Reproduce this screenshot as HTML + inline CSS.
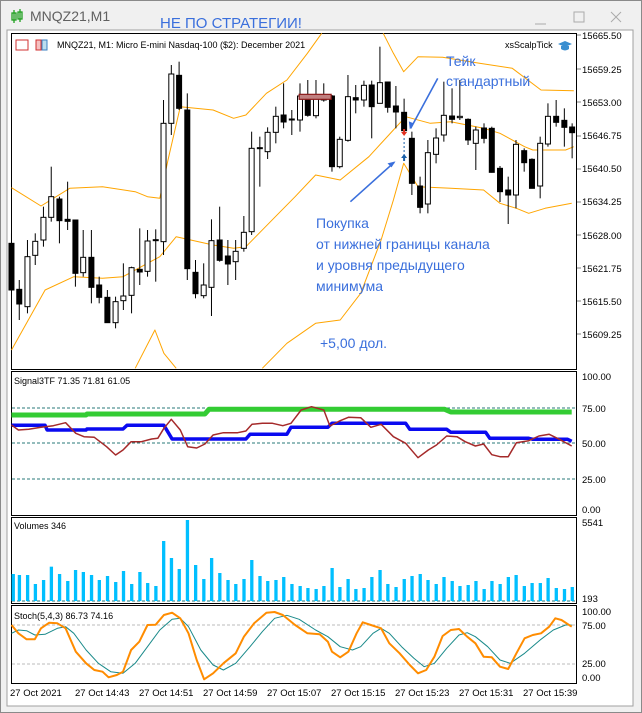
<!DOCTYPE html>
<html><head><meta charset="utf-8"><style>
html,body{margin:0;padding:0;width:642px;height:713px;overflow:hidden;background:#f0f0f0;font-family:"Liberation Sans",sans-serif}
#win{position:absolute;left:0;top:0;width:640px;height:711px;border:1px solid #8a8a8a;background:#f0f0f0}
</style></head><body>
<div id="win"></div>
<svg id="s" width="642" height="713" style="position:absolute;left:0;top:0" xmlns="http://www.w3.org/2000/svg" font-family="Liberation Sans, sans-serif">
<rect x="7" y="30" width="626" height="676" fill="#fff" stroke="#a0a0a0"/>
<g fill="none" stroke="#1ea01e" stroke-width="1.3"><line x1="14" y1="10" x2="14" y2="23"/><rect x="12" y="13" width="4" height="7"/><line x1="20" y1="9" x2="20" y2="22"/><rect x="18" y="12" width="4" height="7"/></g>
<text x="30" y="21" font-size="14" fill="#606060">MNQZ21,M1</text>
<text x="160" y="28" font-size="15" fill="#3a6fdc" font-family="Liberation Sans, Noto Sans CJK SC, sans-serif">НЕ ПО СТРАТЕГИИ!</text>
<line x1="535" y1="24" x2="546" y2="24" stroke="#aaa"/>
<rect x="574" y="12" width="10" height="10" fill="none" stroke="#aaa"/>
<path d="M611 12 L621 22 M621 12 L611 22" stroke="#aaa"/>
<g fill="none" stroke="#000"><rect x="11.5" y="33.5" width="565" height="336"/><rect x="11.5" y="371.5" width="565" height="144"/><rect x="11.5" y="517.5" width="565" height="86"/><rect x="11.5" y="605.5" width="565" height="78"/></g>
<g font-size="9.5" fill="#000">
<text x="582" y="39">15665.50</text><text x="582" y="73">15659.25</text><text x="582" y="106">15653.00</text><text x="582" y="139">15646.75</text><text x="582" y="172">15640.50</text><text x="582" y="205">15634.25</text><text x="582" y="239">15628.00</text><text x="582" y="272">15621.75</text><text x="582" y="305">15615.50</text><text x="582" y="338">15609.25</text>
<text x="582" y="380">100.00</text><text x="582" y="412">75.00</text><text x="582" y="447">50.00</text><text x="582" y="483">25.00</text><text x="582" y="513">0.00</text>
<text x="582" y="526">5541</text><text x="582" y="602">193</text>
<text x="582" y="615">100.00</text><text x="582" y="629">75.00</text><text x="582" y="667">25.00</text><text x="582" y="681">0.00</text>
<text x="10" y="696">27 Oct 2021</text><text x="75" y="696">27 Oct 14:43</text><text x="139" y="696">27 Oct 14:51</text><text x="203" y="696">27 Oct 14:59</text><text x="267" y="696">27 Oct 15:07</text><text x="331" y="696">27 Oct 15:15</text><text x="395" y="696">27 Oct 15:23</text><text x="459" y="696">27 Oct 15:31</text><text x="523" y="696">27 Oct 15:39</text>
<text x="57" y="48" font-size="9">MNQZ21, M1:  Micro E-mini Nasdaq-100 ($2): December 2021</text>
<text x="505" y="48" font-size="9">xsScalpTick</text>
<text x="14" y="384" font-size="9">Signal3TF 71.35 71.81 61.05</text>
<text x="14" y="529" font-size="9">Volumes 346</text>
<text x="14" y="619" font-size="9">Stoch(5,4,3) 86.73 74.16</text>
</g>
<g stroke="#000" stroke-width="0.5"><line x1="577" y1="35" x2="581" y2="35"/><line x1="577" y1="69" x2="581" y2="69"/><line x1="577" y1="102" x2="581" y2="102"/><line x1="577" y1="136" x2="581" y2="136"/><line x1="577" y1="169" x2="581" y2="169"/><line x1="577" y1="202" x2="581" y2="202"/><line x1="577" y1="235" x2="581" y2="235"/><line x1="577" y1="268" x2="581" y2="268"/><line x1="577" y1="301" x2="581" y2="301"/><line x1="577" y1="334" x2="581" y2="334"/></g>
<rect x="16" y="40" width="12" height="10" fill="none" stroke="#d03030"/><rect x="36" y="40" width="5" height="10" fill="#f5c0c0" stroke="#d03030"/><rect x="42" y="40" width="5" height="10" fill="#bde" stroke="#3a7fc0"/>
<path d="M558 44 l7 -3 l7 3 l-7 3z" fill="#3a8fd0"/><path d="M561 46 v3 q4 3 8 0 v-3" fill="#3a8fd0"/>
<g id="dyn"></g>
<g font-size="14" fill="#3a6fdc" font-family="Liberation Sans, Noto Sans CJK SC, sans-serif">
<text x="446" y="66">Тейк</text><text x="446" y="86">стандартный</text>
<text x="316" y="228">Покупка</text><text x="316" y="249">от нижней границы канала</text><text x="316" y="270">и уровня предыдущего</text><text x="316" y="291">минимума</text>
<text x="320" y="348">+5,00 дол.</text>
</g>
</svg>
<script>
var NS="http://www.w3.org/2000/svg",g=document.getElementById("dyn");
function el(t,a){var e=document.createElementNS(NS,t);for(var k in a)e.setAttribute(k,a[k]);g.appendChild(e);return e;}
var XF=2.44;
function pl(pts,yoff,st,w,dash){var s=[];for(var i=0;i<pts.length;i+=2)s.push((pts[i]/XF).toFixed(1)+","+(yoff+pts[i+1]/3).toFixed(1));var a={points:s.join(" "),fill:"none",stroke:st,"stroke-width":w,"stroke-linejoin":"round"};if(dash)a["stroke-dasharray"]=dash;el("polyline",a);}
// dashed levels
[[408,"#2a7a7a"],[443,"#2a7a7a"],[479,"#2a7a7a"],[601,"#2a7a7a"]].forEach(function(l){el("line",{x1:12,x2:576,y1:l[0],y2:l[0],stroke:l[1],"stroke-width":1,"stroke-dasharray":"3,2"});});
[625,664].forEach(function(y){el("line",{x1:12,x2:576,y1:y,y2:y,stroke:"#bbb","stroke-dasharray":"3,2"});});
// bands
var O="#ffa500";
pl([28,563,100,618,170,565,250,560,330,575,360,590,390,595,410,480,440,320,520,330,570,355,600,345,650,280,700,240,750,160,785,100],0,O,1);
pl([935,100,960,160,985,215,1020,170,1080,172,1170,190,1250,205,1320,270,1400,272],0,O,1);
pl([28,1050,110,870,180,830,250,835,300,830,360,790,390,770,430,710,520,735,570,745,600,740,680,640,720,590,770,525,830,540,900,470,960,390,990,350,1050,370,1100,365,1180,385,1220,400,1280,440,1300,450,1380,450,1400,440],0,O,1);
pl([330,1105,378,990,400,1060,430,1105],0,O,1);
pl([640,1105,700,1030,770,970,830,960,880,880,930,720,960,600,985,490,1020,560,1100,565,1180,570,1220,610,1260,625,1290,640,1330,625,1395,610],0,O,1);
// candles [x, bodyTop, bodyBot, hi, lo, black]
var C=[[28,730,870,700,960,1],[47,868,912,840,960,1],[67,770,920,720,940,0],[86,724,766,700,795,0],[106,652,720,620,740,0],[125,590,652,500,665,0],[145,597,662,590,730,1],[165,658,664,545,690,1],[184,660,820,660,860,1],[203,772,818,690,830,0],[223,772,862,690,910,1],[242,855,892,830,910,1],[262,892,968,870,968,1],[282,905,968,890,985,0],[301,888,902,790,930,0],[321,803,886,800,940,0],[341,808,816,685,855,1],[360,723,814,690,830,0],[380,719,722,688,845,1],[399,370,725,300,765,0],[418,222,370,195,405,0],[437,226,325,185,330,1],[457,330,806,280,840,1],[477,817,881,780,895,1],[497,855,887,790,895,0],[516,722,862,658,948,0],[536,720,781,620,785,1],[556,768,792,720,855,1],[575,754,785,720,840,0],[595,697,745,648,755,0],[614,445,695,395,705,0],[634,443,445,410,560,1],[653,397,455,382,477,0],[673,349,397,320,430,0],[692,345,366,250,385,1],[712,357,359,330,405,1],[732,288,360,250,395,0],[751,288,346,240,350,1],[771,290,347,240,355,0],[790,288,300,250,305,0],[810,288,500,285,515,1],[829,418,500,410,505,0],[849,290,421,225,425,0],[868,293,300,255,340,1],[888,256,300,242,320,0],[907,255,320,242,415,1],[927,248,310,140,310,0],[946,246,322,245,338,1],[966,318,336,258,385,1],[986,337,392,296,395,1],[1005,415,550,395,585,1],[1025,558,622,530,640,1],[1044,458,612,420,640,0],[1064,414,463,385,490,0],[1083,346,405,245,425,0],[1103,348,358,265,370,1],[1122,349,353,240,360,0],[1142,358,420,355,435,1],[1161,390,430,380,510,0],[1181,384,415,370,430,1],[1200,385,517,380,518,1],[1220,505,575,498,606,1],[1240,570,585,530,672,1],[1259,433,585,420,625,0],[1279,452,488,445,515,1],[1298,478,565,475,565,1],[1318,430,558,410,595,0],[1337,349,432,310,440,0],[1357,349,367,300,380,1],[1377,361,382,325,440,1],[1396,381,398,370,475,1]];
C.forEach(function(c){var x=c[0]/XF;el("line",{x1:x,x2:x,y1:c[3]/3,y2:c[4]/3,stroke:"#000","stroke-width":1});var t=c[1]/3,b=c[2]/3;if(b-t<1)b=t+1;el("rect",{x:x-2.5,y:t,width:5,height:b-t,fill:c[5]?"#000":"#fff",stroke:"#000","stroke-width":1});});
el("rect",{x:730/XF,y:283/3,width:78/XF,height:5,fill:"#c08080",stroke:"#8b1a1a","stroke-width":1.2});
// arrows
var ax=986/XF;el("line",{x1:ax,x2:ax,y1:138,y2:155,stroke:"#1a5fa8","stroke-dasharray":"2,2"});
el("path",{d:"M"+(ax-3)+" 132 h6 l-3 4z",fill:"#e03020"});el("rect",{x:ax-1,y:129,width:2,height:4,fill:"#e03020"});
el("path",{d:"M"+(ax-3)+" 158 h6 l-3 -4z",fill:"#1a5fa8"});el("rect",{x:ax-1,y:157,width:2,height:4,fill:"#1a5fa8"});
el("line",{x1:1068/XF,y1:235/3,x2:1002/XF,y2:385/3,stroke:"#3a6fdc","stroke-width":1.6});
el("path",{d:"M"+(1000/XF)+" "+(388/3)+" l-1 -8 l5 2z",fill:"#3a6fdc"});
el("line",{x1:855/XF,y1:605/3,x2:962/XF,y2:487/3,stroke:"#3a6fdc","stroke-width":1.6});
el("path",{d:"M"+(965/XF)+" "+(484/3)+" l-8 2 l4 4z",fill:"#3a6fdc"});
// signal panel
var Y2=370;
pl([28,135,210,135,212,132,500,132,510,118,1085,118,1100,126,1395,126],Y2,"#33cc33",5);
pl([28,166,110,166,115,180,210,180,212,177,300,177,310,166,400,166,420,207,600,207,610,193,700,193,710,172,800,172,810,160,990,160,1000,178,1090,178,1100,187,1185,187,1195,205,1290,205,1300,208,1385,208,1395,214],Y2,"#0a0af0",3.5);
pl([28,165,45,180,70,178,100,172,130,167,160,158,185,190,205,200,230,202,260,230,282,255,300,240,320,215,345,215,370,207,385,205,400,175,418,148,440,180,458,230,480,234,500,222,520,195,545,188,580,188,600,183,615,163,640,160,665,160,690,167,710,160,735,120,760,110,790,120,805,168,830,152,850,142,880,143,905,172,930,163,960,200,990,220,1020,263,1045,240,1065,225,1090,198,1115,200,1135,215,1160,228,1180,222,1200,254,1220,260,1240,260,1260,218,1290,212,1315,198,1340,193,1365,208,1395,228],Y2,"#a52a2a",1.5);
// volumes
var V=[[32,612],[47,615],[67,615],[86,642],[106,630],[125,590],[145,612],[165,633],[184,600],[203,606],[223,615],[242,630],[262,618],[282,636],[301,603],[321,642],[341,606],[360,639],[380,648],[399,513],[418,564],[437,597],[457,450],[477,585],[497,627],[516,564],[536,609],[556,630],[575,642],[595,627],[614,570],[634,618],[653,633],[673,630],[692,621],[712,642],[732,648],[751,654],[771,657],[790,648],[810,594],[829,651],[849,627],[868,657],[888,654],[907,621],[927,600],[946,642],[966,651],[986,627],[1005,618],[1025,612],[1044,630],[1064,642],[1083,621],[1103,633],[1122,648],[1142,645],[1161,633],[1181,657],[1200,633],[1220,642],[1240,621],[1259,615],[1279,648],[1298,639],[1318,639],[1337,624],[1357,654],[1377,657],[1396,651]];
V.forEach(function(v){var x=v[0]/XF,t=Y2+v[1]/3;el("rect",{x:x-1.5,y:t,width:3.3,height:601-t,fill:"#00bfff"});});
// stoch
pl([28,790,45,780,65,782,85,795,110,793,140,775,160,770,180,790,210,840,240,880,270,905,300,910,330,880,360,830,390,780,420,748,440,745,460,770,490,840,520,885,545,900,575,880,610,830,640,785,670,745,700,736,730,748,770,780,800,800,830,830,860,840,880,830,910,790,930,775,950,790,980,830,1010,865,1035,890,1060,880,1090,835,1120,795,1140,788,1160,800,1190,830,1220,870,1245,880,1280,850,1320,808,1350,780,1380,765,1395,765],Y2,"#1a8a8a",1);
pl([28,765,45,790,65,808,85,808,100,775,120,758,140,760,160,775,185,845,210,880,230,900,250,905,265,922,285,915,300,905,320,840,340,815,360,765,380,764,400,735,420,728,440,745,460,790,480,870,498,928,520,910,545,880,575,850,595,800,620,760,650,728,670,726,690,735,720,765,750,790,780,793,800,815,810,845,830,862,850,845,870,790,885,757,905,765,930,775,950,820,975,850,1000,885,1020,910,1040,900,1060,860,1080,798,1100,780,1120,777,1140,800,1160,820,1180,860,1200,862,1220,890,1240,897,1260,850,1280,805,1300,795,1320,790,1340,770,1355,745,1370,750,1395,770],Y2,"#ff8c00",2);
</script>
</body></html>
